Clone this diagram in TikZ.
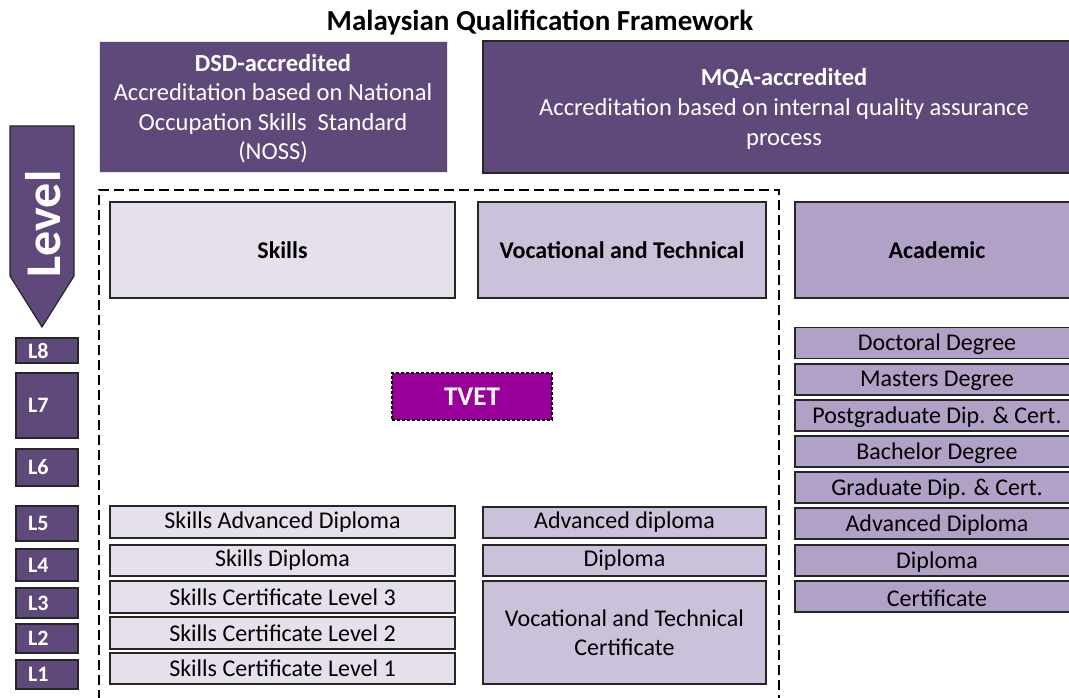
\documentclass[tikz,border=0pt]{standalone}
\usepackage{fontspec}
\setmainfont{Carlito}
\definecolor{dpurple}{HTML}{5F497A}
\definecolor{lpurA}{HTML}{E6E0EC}
\definecolor{lpurB}{HTML}{CCC1DA}
\definecolor{lpurC}{HTML}{B2A1C7}
\definecolor{tvetc}{HTML}{990099}
\definecolor{edge}{HTML}{262626}
\tikzset{
  box/.style={rectangle, inner sep=0pt, outer sep=0pt, align=center, draw=edge, line width=1.2pt},
  rowA/.style={box, fill=lpurA, font=\fontsize{24}{28}\selectfont},
  rowB/.style={box, fill=lpurB, font=\fontsize{24}{29}\selectfont},
  rowC/.style={box, fill=lpurC, font=\fontsize{24}{28}\selectfont},
  head/.style={font=\bfseries\fontsize{24}{28}\selectfont},
  lvl/.style={box, fill=dpurple, text=white, font=\bfseries\fontsize{22}{26}\selectfont, minimum width=62, anchor=north west, text width=38, align=left, inner xsep=12pt},
  acc/.style={rectangle, inner sep=0pt, outer sep=0pt, align=center, fill=dpurple, text=white},
}
\begin{document}
\begin{tikzpicture}[x=1pt,y=-1pt]
\useasboundingbox (0,0) rectangle (1069,698);
% title
\node[font=\bfseries\fontsize{29}{34}\selectfont] (title) at (540,22.5) {Malaysian Qualification Framework};
% accreditation boxes
\node[acc, draw=lpurA, line width=0.8pt, minimum width=348, minimum height=131, anchor=north west] (dsd) at (99,41) {};
\node[text=white, align=center, font=\fontsize{24.5}{29.3}\selectfont] (dsdt) at (273,108.5)
  {\textbf{DSD-accredited}\\Accreditation based on National\\Occupation Skills\ \ Standard\\(NOSS)};
\node[acc, draw=edge, line width=1.2pt, minimum width=600, minimum height=132, anchor=north west] (mqa) at (483,41) {};
\node[text=white, align=center, font=\fontsize{24.5}{30}\selectfont] (mqat) at (784,108.5)
  {\textbf{MQA-accredited}\\Accreditation based on internal quality assurance\\process};
% Level arrow
\draw[fill=dpurple, draw=edge, line width=1.2pt] (10,126) -- (74,126) -- (74,276) -- (42,327) -- (10,276) -- cycle;
\node[rotate=90, text=white, font=\bfseries\fontsize{50}{54}\selectfont] (levtxt) at (43,224) {Level};
% level boxes
\node[lvl, minimum height=25] (L8) at (16,338) {L8};
\node[lvl, minimum height=65] (L7) at (16,373) {L7};
\node[lvl, minimum height=37] (L6) at (16,449) {L6};
\node[lvl, minimum height=35] (L5) at (16,506) {L5};
\node[lvl, minimum height=32] (L4) at (16,549) {L4};
\node[lvl, minimum height=30] (L3) at (16,588) {L3};
\node[lvl, minimum height=29] (L2) at (16,624) {L2};
\node[lvl, minimum height=29] (L1) at (16,660) {L1};
% dashed TVET frame
\draw[dashed, dash pattern=on 10pt off 5pt, line width=1.8pt] (99,700) -- (99,190) -- (779,190) -- (779,700);
% headers
\node[rowA, head, minimum width=345, minimum height=96] (skills) at (282.5,250) {Skills};
\node[rowB, head, minimum width=288, minimum height=96] (voc) at (622,250) {Vocational and Technical};
\node[rowC, minimum width=290, minimum height=96, anchor=west] (acad) at (795,250) {};
\node[head] (acadt) at (937,250) {Academic};
% TVET
\node[box, fill=tvetc, draw=black, dashed, dash pattern=on 3pt off 2pt, line width=1.8pt, text=white, font=\bfseries\fontsize{27}{31}\selectfont, minimum width=160, minimum height=47] (tvet) at (472,396.5) {TVET};
% skills rows
\node[rowA, minimum width=345, minimum height=32] (s5) at (282.5,522) {Skills Advanced Diploma};
\node[rowA, minimum width=345, minimum height=31] (s4) at (282.5,560.5) {Skills Diploma};
\node[rowA, minimum width=345, minimum height=32] (s3) at (282.5,597) {Skills Certificate Level 3};
\node[rowA, minimum width=345, minimum height=32] (s2) at (282.5,633) {Skills Certificate Level 2};
\node[rowA, minimum width=345, minimum height=31] (s1) at (282.5,668.5) {Skills Certificate Level 1};
% vocational rows
\node[rowB, minimum width=283, minimum height=31] (v5) at (624.5,522.5) {Advanced diploma};
\node[rowB, minimum width=283, minimum height=31] (v4) at (624.5,560.5) {Diploma};
\node[rowB, minimum width=283, minimum height=103] (v1) at (624.5,632.5) {Vocational and Technical\\Certificate};
% academic rows
\foreach \nm/\yy/\txt in {a8/343/Doctoral Degree, a7/379.5/Masters Degree, a7b/415.5/Postgraduate Dip. \& Cert., a6/451.5/Bachelor Degree, a6b/487.5/Graduate Dip. \& Cert., a5/523.5/Advanced Diploma, a4/560.5/Diploma, a3/596.5/Certificate}{
  \node[rowC, minimum width=290, minimum height=31, anchor=west] (\nm) at (795,\yy) {};
  \node[font=\fontsize{24}{28}\selectfont] (\nm t) at (937,\yy+1.5) {\txt};
}
\end{tikzpicture}
\end{document}
